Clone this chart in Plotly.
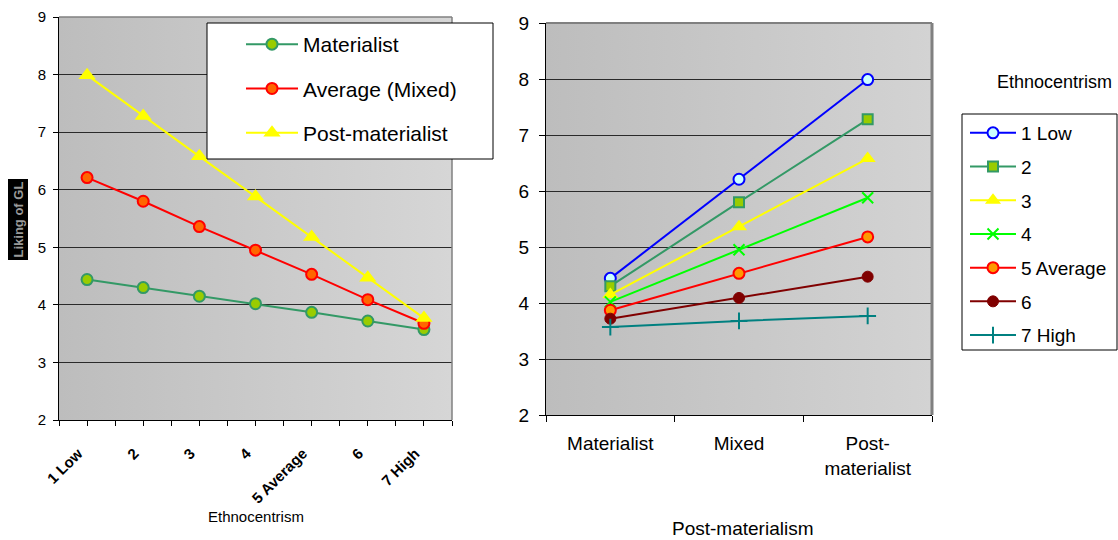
import base64
import plotly.graph_objects as go

# Ethnocentrism levels (left chart x axis / right chart series)
eth_labels = ["1 Low", "2", "3", "4", "5 Average", "6", "7 High"]
eth_positions = [1, 2, 3, 4, 5, 6, 7]

# Liking score by ethnocentrism level, per post-materialism group
materialist = [4.44, 4.30, 4.15, 4.02, 3.87, 3.72, 3.57]
mixed = [6.21, 5.80, 5.36, 4.95, 4.53, 4.09, 3.68]
post_materialist = [7.99, 7.28, 6.58, 5.88, 5.18, 4.47, 3.77]

# Post-materialism groups (right chart x axis)
pm_labels = ["Materialist", "Mixed", "Post-<br>materialist"]
pm_positions = [1, 2, 3]

y_ticks = [2, 3, 4, 5, 6, 7, 8, 9]

FONT = "Liberation Sans, Arial, sans-serif"
W, H = 1118, 540


def px_x(v):
    return v / W


def px_y(v):
    return 1 - v / H


# plot-area rectangles in pixels (left, top, right, bottom)
L_AREA = (59, 17, 452, 420)
R_AREA = (546, 23, 932, 415)


def gradient_uri(c0, c1):
    svg = (
        '<svg xmlns="http://www.w3.org/2000/svg" width="200" height="200" '
        'preserveAspectRatio="none"><defs><linearGradient id="g" x1="0" y1="0" '
        f'x2="1" y2="0"><stop offset="0" stop-color="{c0}"/><stop offset="1" '
        f'stop-color="{c1}"/></linearGradient></defs>'
        '<rect width="200" height="200" fill="url(#g)"/></svg>'
    )
    return "data:image/svg+xml;base64," + base64.b64encode(svg.encode()).decode()


fig = go.Figure()

# ---- left chart: liking by ethnocentrism, one line per post-materialism group
left_series = [
    ("Materialist", materialist, "#339966",
     dict(symbol="circle", size=11, color="#99cc00", line=dict(color="#339966", width=2))),
    ("Average (Mixed)", mixed, "#ff0000",
     dict(symbol="circle", size=11, color="#ff6600", line=dict(color="#ff0000", width=2))),
    ("Post-materialist", post_materialist, "#ffff00",
     dict(symbol="triangle-up", size=15, color="#ffff00", line=dict(color="#ffff00", width=0))),
]
for name, vals, col, mk in left_series:
    fig.add_trace(go.Scatter(
        x=eth_positions, y=vals, name=name, mode="lines+markers",
        line=dict(color=col, width=2), marker=mk,
        xaxis="x", yaxis="y", legend="legend", legendgroup=name,
    ))

# ---- right chart: liking by post-materialism, one line per ethnocentrism level
right_styles = [
    ("#0000ff", dict(symbol="circle", size=11, color="#ccffff", line=dict(color="#0000ff", width=2))),
    ("#339966", dict(symbol="square", size=10, color="#99cc00", line=dict(color="#339966", width=2))),
    ("#ffff00", dict(symbol="triangle-up", size=14, color="#ffff00", line=dict(color="#ffff00", width=0))),
    ("#00ff00", dict(symbol="x-thin-open", size=11, color="#00ff00", line=dict(color="#00ff00", width=2))),
    ("#ff0000", dict(symbol="circle", size=11, color="#ff9900", line=dict(color="#ff0000", width=2))),
    ("#800000", dict(symbol="circle", size=11, color="#800000", line=dict(color="#800000", width=1))),
    ("#008080", dict(symbol="cross-thin-open", size=12, color="#008080", line=dict(color="#008080", width=2))),
]
for i, (label, (col, mk)) in enumerate(zip(eth_labels, right_styles)):
    vals = [materialist[i], mixed[i], post_materialist[i]]
    fig.add_trace(go.Scatter(
        x=pm_positions, y=vals, name=label, mode="lines+markers",
        line=dict(color=col, width=2), marker=mk,
        xaxis="x2", yaxis="y2", legend="legend2", legendgroup="e" + str(i),
    ))

axis_common = dict(showline=True, linecolor="black", linewidth=1, zeroline=False,
                   tickcolor="black")

# rotated labels sit a little away from their tick, padded at the end
left_ticktext = [lab + "&nbsp;" * 3 for lab in eth_labels]

fig.update_layout(
    width=W, height=H,
    margin=dict(l=0, r=0, t=0, b=0, autoexpand=False),
    paper_bgcolor="white",
    plot_bgcolor="rgba(0,0,0,0)",
    font=dict(family=FONT, color="black"),
    xaxis=dict(
        domain=[px_x(L_AREA[0]), px_x(L_AREA[2])], anchor="y",
        range=[0.5, 7.5], tickmode="array", tickvals=eth_positions, ticktext=left_ticktext,
        tickangle=-45, ticks="outside", ticklen=5, ticklabelstandoff=4, showgrid=False,
        minor=dict(tick0=0.5, dtick=1, ticks="outside", ticklen=5, tickcolor="black", showgrid=False),
        tickfont=dict(family=FONT, color="black", size=15, weight="bold"),
        **axis_common,
    ),
    yaxis=dict(
        domain=[px_y(L_AREA[3]), px_y(L_AREA[1])], anchor="x",
        range=[2, 9], tickmode="array", tickvals=y_ticks,
        ticks="outside", ticklen=5, ticklabelstandoff=4,
        showgrid=True, gridcolor="#2a2a2a", gridwidth=1,
        tickfont=dict(family=FONT, color="black", size=15),
        **axis_common,
    ),
    xaxis2=dict(
        domain=[px_x(R_AREA[0]), px_x(R_AREA[2])], anchor="y2",
        range=[0.5, 3.5], tickmode="array", tickvals=pm_positions, ticktext=pm_labels,
        ticks="", ticklabelstandoff=11, showgrid=False,
        minor=dict(tick0=0.5, dtick=1, ticks="outside", ticklen=6, tickcolor="black", showgrid=False),
        tickfont=dict(family=FONT, color="black", size=19),
        **axis_common,
    ),
    yaxis2=dict(
        domain=[px_y(R_AREA[3]), px_y(R_AREA[1])], anchor="x2",
        range=[2, 9], tickmode="array", tickvals=y_ticks,
        ticks="outside", ticklen=6, ticklabelstandoff=6,
        showgrid=True, gridcolor="#2a2a2a", gridwidth=1,
        tickfont=dict(family=FONT, color="black", size=19),
        **axis_common,
    ),
    legend=dict(
        x=px_x(241), y=px_y(24), xanchor="left", yanchor="top",
        bgcolor="rgba(0,0,0,0)", borderwidth=0, itemwidth=52,
        font=dict(family=FONT, size=21, color="black"),
        tracegroupgap=14, traceorder="grouped",
    ),
    legend2=dict(
        x=px_x(965), y=px_y(114), xanchor="left", yanchor="top",
        bgcolor="rgba(0,0,0,0)", borderwidth=0, itemwidth=46,
        font=dict(family=FONT, size=19, color="black"),
        tracegroupgap=6, traceorder="grouped",
    ),
    images=[
        dict(source=gradient_uri("#bdbdbd", "#d6d6d6"), xref="paper", yref="paper",
             x=px_x(L_AREA[0]), y=px_y(L_AREA[1]),
             sizex=px_x(L_AREA[2]) - px_x(L_AREA[0]), sizey=px_y(L_AREA[1]) - px_y(L_AREA[3]),
             sizing="stretch", layer="below"),
        dict(source=gradient_uri("#bdbdbd", "#d3d3d3"), xref="paper", yref="paper",
             x=px_x(R_AREA[0]), y=px_y(R_AREA[1]),
             sizex=px_x(R_AREA[2]) - px_x(R_AREA[0]), sizey=px_y(R_AREA[1]) - px_y(R_AREA[3]),
             sizing="stretch", layer="below"),
    ],
    shapes=[
        # plot-area borders (top and right edges)
        dict(type="line", xref="paper", yref="paper", layer="above",
             x0=px_x(L_AREA[0]), x1=px_x(L_AREA[2]), y0=px_y(L_AREA[1]), y1=px_y(L_AREA[1]),
             line=dict(color="#808080", width=1.5)),
        dict(type="line", xref="paper", yref="paper", layer="above",
             x0=px_x(L_AREA[2]), x1=px_x(L_AREA[2]), y0=px_y(L_AREA[1]), y1=px_y(L_AREA[3]),
             line=dict(color="#808080", width=1.5)),
        dict(type="line", xref="paper", yref="paper", layer="above",
             x0=px_x(R_AREA[0]), x1=px_x(R_AREA[2]), y0=px_y(R_AREA[1]), y1=px_y(R_AREA[1]),
             line=dict(color="#808080", width=2)),
        dict(type="line", xref="paper", yref="paper", layer="above",
             x0=px_x(R_AREA[2]), x1=px_x(R_AREA[2]), y0=px_y(R_AREA[1]), y1=px_y(R_AREA[3]),
             line=dict(color="#808080", width=3)),
        # legend frames
        dict(type="rect", xref="paper", yref="paper", layer="above",
             x0=px_x(207), x1=px_x(493), y0=px_y(23), y1=px_y(159),
             fillcolor="white", line=dict(color="black", width=1)),
        dict(type="rect", xref="paper", yref="paper", layer="above",
             x0=px_x(962), x1=px_x(1117), y0=px_y(114), y1=px_y(350),
             fillcolor="white", line=dict(color="black", width=1)),
    ],
    annotations=[
        dict(text="<b>Liking of GL</b>", xref="paper", yref="paper",
             x=px_x(17.5), y=px_y(220), xanchor="center", yanchor="middle",
             showarrow=False, textangle=-90,
             bgcolor="black", font=dict(family=FONT, size=13, color="#9a9a9a"),
             borderpad=2),
        dict(text="Ethnocentrism", xref="paper", yref="paper",
             x=px_x(256), y=px_y(516), xanchor="center", yanchor="middle", showarrow=False,
             font=dict(family=FONT, size=15, color="black")),
        dict(text="Post-materialism", xref="paper", yref="paper",
             x=px_x(742), y=px_y(528), xanchor="center", yanchor="middle", showarrow=False,
             font=dict(family=FONT, size=19, color="black")),
        dict(text="Ethnocentrism", xref="paper", yref="paper",
             x=px_x(1054), y=px_y(82), xanchor="center", yanchor="middle", showarrow=False,
             font=dict(family=FONT, size=18, color="black")),
    ],
)

fig.write_html("out.html")
